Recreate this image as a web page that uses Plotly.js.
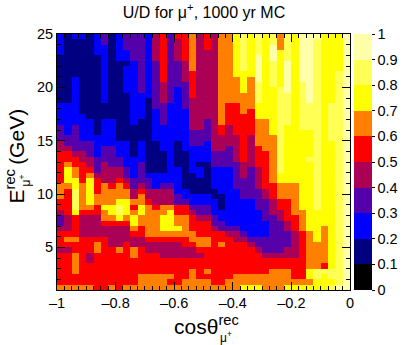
<!DOCTYPE html>
<html><head><meta charset="utf-8"><script src="https://cdn.plot.ly/plotly-3.0.1.min.js"></script>
<style>html,body{margin:0;padding:0;background:#fff}</style></head><body><div id="c" style="width:407px;height:345px"></div>
<script>
// U/D ratio per cell, in tenths (digit d = ratio between d/10 and (d+1)/10); top row is 25 GeV, left column is cos = -1
const ratioTenthsTopDown = [
"2122123123332453556454667878786879997779",
"2111123123332453456454667878786879987779",
"2111122123332453456454667878796879987779",
"2111122122332453456444667878797879987779",
"1111112122332453456444667879797879987779",
"1111112111232353346444667879787979987779",
"1111112112232353346444667879787979987779",
"1111112112232353345444667779787979987789",
"1121112112232353345444666769787979987789",
"1121112112232343335444666768787978987789",
"1121112112232343235444666768778978987789",
"1121112111222343235444666668778878987789",
"1121112111221343234444666668778878987789",
"2221111111221332234444655667778878887889",
"2221111111221232224444655657778878887889",
"2222111111221232224444655557778878887889",
"2222212211211232224434655556678878887889",
"3232212211111222224434545556678778887889",
"3232212211111222223334545556678777787889",
"3332222211111222223334444546668777787889",
"4333322222121122123324444546668777787789",
"4433323322121122122224434545668777787789",
"5544323322121112112223334545568777787789",
"5554433332221112112223334545568777887789",
"5655434332231112112113333445568777787789",
"5765534443231112212212223434568777787789",
"5765644443232222211212223434567777787789",
"5775754454333222211112223334567777787789",
"6676756565343233211112223334556667787789",
"6586756666454444221111222333456667787789",
"6586766666464444322221122333456667787789",
"5586766677665444332222122223345567787789",
"5586657787576566553332122223345567787789",
"4575556787676667554332222222344566777789",
"3454446676766677665443222222334556777789",
"3454445555766677665553322222233456777789",
"4454444444656677765554333222233456776789",
"5554444444556666666555544322233345676789",
"5665555444445555556665554433333345676789",
"5555565445444444455665655543333345666789",
"4455565565654444444555555554333445666789",
"5565455555655544444455555555444445666789",
"5565455555555555555555555555555555666789",
"5565555555555555555555555555555555665789",
"5565555555555555556565555555566655788889",
"5555555555566666556555556666666655787889",
"5555555555566665566665566666666666677789",
"6666655656666666666666666777666777777899"
];
const xTickVals = [-1,-0.8,-0.6,-0.4,-0.2,0];
const xTickText = ["–1","–0.8","–0.6","–0.4","–0.2","0"];
const yTickVals = [5,10,15,20,25];
const barTickVals = [0,0.1,0.2,0.3,0.4,0.5,0.6,0.7,0.8,0.9,1];
const barTickText = ["0","0.1","0.2","0.3","0.4","0.5","0.6","0.7","0.8","0.9","1"];
const bandColors = ["#000000","#000080","#0000ff","#5500aa","#aa0055","#ff0000","#ff8000","#ffff00","#ffff55","#ffffaa"];

const z = ratioTenthsTopDown.slice().reverse().map(r => r.split("").map(d => (Number(d)+0.5)/10));
const colorscale = [];
bandColors.forEach((c,i)=>{colorscale.push([i/10,c]);colorscale.push([(i+1)/10,c]);});

const F = "Liberation Sans, Arial, sans-serif";
const L=57,R=350,T=34,B=290;
const px = x => (x-L)/(R-L), py = y => (B-y)/(B-T);
const axisBase = {linecolor:"#000",linewidth:1,mirror:"allticks",ticks:"inside",ticklen:8,tickcolor:"#000",tickwidth:1,
  showgrid:false,zeroline:false,tickfont:{family:F,size:14.5,color:"#000"}};
const anno = (text,x,y,size,extra)=>Object.assign({xref:"paper",yref:"paper",x:px(x),y:py(y),text,showarrow:false,
  font:{family:F,size,color:"#000"},xanchor:"left",yanchor:"middle"},extra||{});

Plotly.newPlot("c",[{type:"heatmap",z,x0:-0.9875,dx:0.025,y0:1.25,dy:0.5,zmin:0,zmax:1,colorscale,zsmooth:false,
  colorbar:{x:1+(354-350)/(R-L),xanchor:"left",xpad:0,ypad:0,y:0,yanchor:"bottom",len:1,thickness:18,outlinewidth:0,
    tickmode:"array",tickvals:barTickVals,ticktext:barTickText,ticks:"outside",ticklen:3,tickcolor:"#000",
    tickfont:{family:F,size:14.5,color:"#000"}},hoverinfo:"skip"}],
 {width:407,height:345,margin:{l:L,r:407-R,t:T,b:345-B,pad:0,autoexpand:false},paper_bgcolor:"#fff",plot_bgcolor:"#fff",
  title:{text:"U/D for μ<sup>+</sup>, 1000 yr MC",font:{family:F,size:16,color:"#000"},x:204/407,xanchor:"center",y:1-12/345,yanchor:"middle"},
  xaxis:Object.assign({},axisBase,{range:[-1,0],tickmode:"array",tickvals:xTickVals,ticktext:xTickText,
    minor:{ticks:"inside",ticklen:4,dtick:0.025,tick0:-1,tickcolor:"#000",tickwidth:1,showgrid:false},
    title:{text:"\u200b\u00a0cosθ<sup>rec</sup>",font:{family:F,size:21,color:"#000"},standoff:8}}),
  yaxis:Object.assign({},axisBase,{range:[1,25],tickmode:"array",tickvals:yTickVals,
    minor:{ticks:"inside",ticklen:4,dtick:1,tick0:0,tickcolor:"#000",tickwidth:1,showgrid:false},
    title:{text:"\u200b\u00a0\u00a0E<sup>rec</sup>\u2009(GeV)",font:{family:F,size:21,color:"#000"},standoff:6}}),
  annotations:[
    anno("μ<sup>+</sup>",218,337,12),
    anno("μ<sup>+</sup>",24.5,181,12,{textangle:-90,xanchor:"center",yanchor:"middle"})
  ]},{displayModeBar:false,staticPlot:true});
</script></body></html>
